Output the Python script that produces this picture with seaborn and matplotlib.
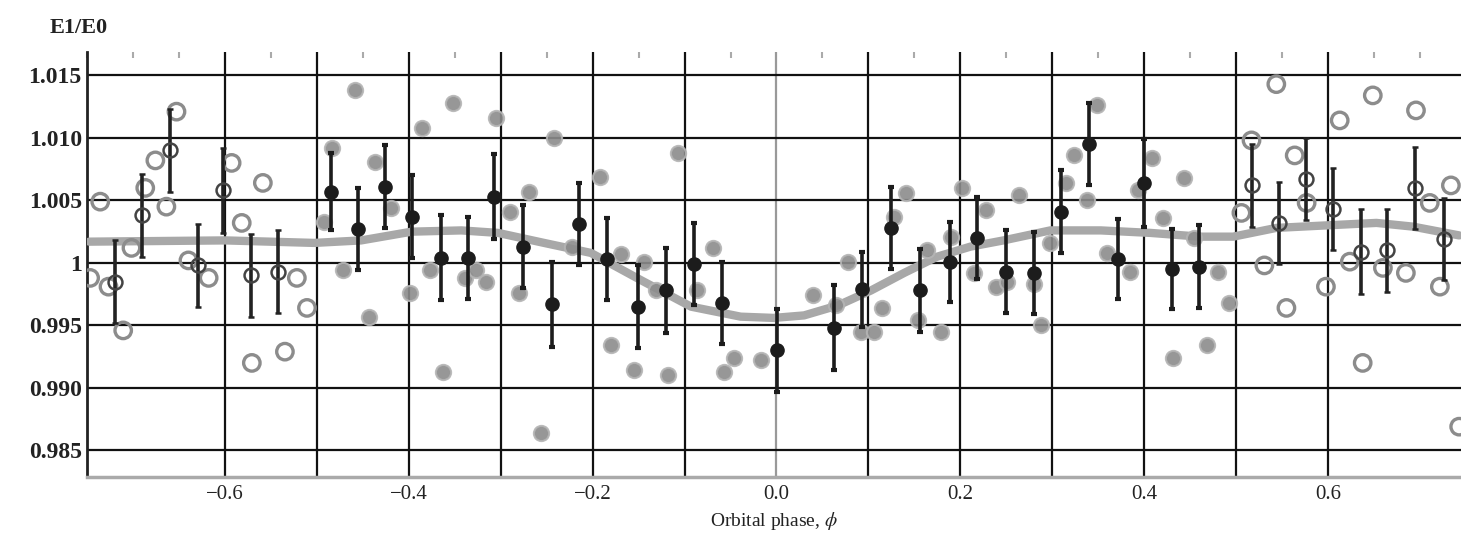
import numpy as np
import matplotlib
matplotlib.use("Agg")
import matplotlib.pyplot as plt
import seaborn as sns
from matplotlib.ticker import MultipleLocator

# model curve
curve_phase = [-0.748, -0.600, -0.503, -0.452, -0.397, -0.343, -0.303, -0.253, -0.202,
               -0.147, -0.093, -0.039, -0.003, 0.030, 0.067, 0.103, 0.139, 0.175, 0.211,
               0.247, 0.298, 0.353, 0.407, 0.461, 0.497, 0.544, 0.598, 0.653, 0.693, 0.743]
curve_ratio = [1.0017, 1.0018, 1.0016, 1.0018, 1.0025, 1.0026, 1.0024, 1.0016, 1.0008,
               0.9986, 0.9965, 0.9957, 0.9956, 0.9958, 0.9966, 0.9978, 0.9992, 1.0005, 1.0013,
               1.0018, 1.0026, 1.0026, 1.0024, 1.0021, 1.0021, 1.0028, 1.0030, 1.0032, 1.0029, 1.0022]

# binned means, centre of the orbit (filled black)
bin_phase = [-0.485, -0.455, -0.426, -0.397, -0.365, -0.336, -0.307, -0.276, -0.244, -0.215,
             -0.184, -0.151, -0.120, -0.090, -0.059, 0.001, 0.063, 0.093, 0.125, 0.156,
             0.189, 0.218, 0.250, 0.280, 0.310, 0.340, 0.372, 0.400, 0.430, 0.460]
bin_ratio = [1.0057, 1.0027, 1.0061, 1.0037, 1.0004, 1.0004, 1.0053, 1.0013, 0.9967, 1.0031,
             1.0003, 0.9965, 0.9978, 0.9999, 0.9968, 0.9930, 0.9948, 0.9979, 1.0028, 0.9978,
             1.0001, 1.0020, 0.9993, 0.9992, 1.0041, 1.0095, 1.0003, 1.0064, 0.9995, 0.9997]
bin_err = [0.0031, 0.0033, 0.0033, 0.0033, 0.0034, 0.0033, 0.0034, 0.0033, 0.0034, 0.0033,
           0.0033, 0.0033, 0.0034, 0.0033, 0.0033, 0.0033, 0.0034, 0.0030, 0.0033, 0.0033,
           0.0032, 0.0033, 0.0033, 0.0033, 0.0033, 0.0033, 0.0032, 0.0035, 0.0032, 0.0033]

# binned means, outer phases (open markers)
edge_phase = [-0.720, -0.691, -0.660, -0.630, -0.602, -0.572, -0.542,
              0.517, 0.547, 0.576, 0.606, 0.636, 0.664, 0.695, 0.727]
edge_ratio = [0.9985, 1.0038, 1.0090, 0.9998, 1.0058, 0.9990, 0.9993,
              1.0062, 1.0032, 1.0067, 1.0043, 1.0009, 1.0010, 1.0060, 1.0019]
edge_err = [0.0033, 0.0033, 0.0033, 0.0033, 0.0034, 0.0033, 0.0033,
            0.0033, 0.0033, 0.0033, 0.0033, 0.0034, 0.0033, 0.0033, 0.0033]

# individual measurements, grey filled
dot_phase = [-0.459, -0.352, -0.386, -0.305, -0.484, -0.437, -0.419, -0.493, -0.290, -0.269,
             -0.472, -0.377, -0.399, -0.444, -0.339, -0.316, -0.327, -0.280, -0.363, -0.256,
             -0.242, -0.107, -0.192, -0.069, -0.169, -0.144, -0.223, -0.131, -0.086, -0.180,
             -0.155, -0.118, -0.046, -0.057, -0.017,
             0.040, 0.065, 0.078, 0.092, 0.106, 0.115, 0.128, 0.141, 0.164, 0.154,
             0.179, 0.190, 0.202, 0.228, 0.215, 0.239,
             0.349, 0.324, 0.315, 0.338, 0.264, 0.298, 0.251, 0.280, 0.288, 0.409,
             0.443, 0.421, 0.394, 0.360, 0.385, 0.454, 0.481, 0.492, 0.432, 0.469]
dot_ratio = [1.0138, 1.0128, 1.0108, 1.0116, 1.0092, 1.0081, 1.0044, 1.0033, 1.0041, 1.0057,
             0.9994, 0.9994, 0.9976, 0.9957, 0.9988, 0.9985, 0.9994, 0.9976, 0.9913, 0.9864,
             1.0100, 1.0088, 1.0069, 1.0012, 1.0007, 1.0001, 1.0013, 0.9978, 0.9978, 0.9934,
             0.9914, 0.9910, 0.9924, 0.9913, 0.9922,
             0.9974, 0.9966, 1.0001, 0.9945, 0.9945, 0.9964, 1.0037, 1.0056, 1.0010, 0.9954,
             0.9945, 1.0021, 1.0060, 1.0042, 0.9992, 0.9981,
             1.0126, 1.0086, 1.0064, 1.0050, 1.0054, 1.0016, 0.9985, 0.9983, 0.9950, 1.0084,
             1.0068, 1.0036, 1.0058, 1.0008, 0.9993, 1.0020, 0.9993, 0.9968, 0.9924, 0.9934]

# individual measurements, grey open
ring_phase = [-0.736, -0.676, -0.687, -0.653, -0.664, -0.702, -0.727, -0.747, -0.711, -0.640,
              -0.618, -0.593, -0.559, -0.582, -0.522, -0.511, -0.571, -0.535,
              0.544, 0.649, 0.696, 0.613, 0.517, 0.564, 0.577, 0.711, 0.734, 0.506,
              0.531, 0.598, 0.555, 0.624, 0.660, 0.685, 0.722, 0.638, 0.743]
ring_ratio = [1.0049, 1.0082, 1.0060, 1.0121, 1.0045, 1.0012, 0.9981, 0.9988, 0.9946, 1.0002,
              0.9988, 1.0080, 1.0064, 1.0032, 0.9988, 0.9964, 0.9920, 0.9929,
              1.0143, 1.0134, 1.0122, 1.0114, 1.0098, 1.0086, 1.0048, 1.0048, 1.0062, 1.0040,
              0.9998, 0.9981, 0.9964, 1.0001, 0.9996, 0.9992, 0.9981, 0.9920, 0.9869]

x_ticks = [-0.6, -0.5, -0.4, -0.3, -0.2, -0.1, 0.0, 0.1, 0.2, 0.3, 0.4, 0.5, 0.6]
x_labels = ["\u22120.6", "", "\u22120.4", "", "\u22120.2", "", "0.0", "", "0.2", "", "0.4", "", "0.6"]
y_ticks = [0.985, 0.990, 0.995, 1.000, 1.005, 1.010, 1.015]
y_labels = ["0.985", "0.990", "0.995", "1", "1.005", "1.010", "1.015"]

sns.set_theme(style="white")
plt.rcParams['font.family'] = ['Liberation Serif', 'DejaVu Serif']
plt.rcParams['mathtext.fontset'] = 'stix'

fig = plt.figure(figsize=(14.61, 5.38), dpi=100)
ax = fig.add_axes([0.0598, 0.114, 0.9402, 0.790])

sns.lineplot(x=curve_phase, y=curve_ratio, color='#a8a8a8', lw=6, ax=ax, zorder=3)

sns.scatterplot(x=dot_phase, y=dot_ratio, color='#8c8c8c', s=120, edgecolor='#b5b5b5',
                linewidth=1.5, alpha=0.9, ax=ax, zorder=4)
ax.scatter(ring_phase, ring_ratio, s=140, facecolors='none', edgecolors='#8c8c8c',
           linewidths=2.4, zorder=4)

ax.errorbar(edge_phase, edge_ratio, yerr=edge_err, fmt='o', color='#222222', ms=10,
            mfc='none', mec='#444444', mew=1.8, elinewidth=2.6, capsize=2.5, capthick=3, zorder=5)
ax.errorbar(bin_phase, bin_ratio, yerr=bin_err, fmt='o', color='#1c1c1c', ms=9.5,
            elinewidth=2.6, capsize=2.5, capthick=3, zorder=6)

ax.set_xlim(-0.75, 0.745)
ax.set_ylim(0.9829, 1.0169)
ax.set_xticks(x_ticks)
ax.set_xticklabels(x_labels, fontsize=15, color='#222222')
ax.set_yticks(y_ticks)
ax.set_yticklabels(y_labels, fontsize=17, fontweight='bold', color='#222222')
ax.xaxis.set_minor_locator(MultipleLocator(0.05))
ax.tick_params(axis='both', which='major', length=0, pad=6)
ax.tick_params(axis='y', which='major', pad=4)
ax.tick_params(axis='x', which='minor', top=True, bottom=False, length=4, width=1.5,
               color='#aaaaaa', direction='in')

ax.set_axisbelow(True)
ax.grid(True, color='#111111', lw=1.6)
ax.get_xgridlines()[6].set_color('#999999')

for side in ['top', 'right']:
    ax.spines[side].set_visible(False)
ax.spines['left'].set_color('#222222')
ax.spines['left'].set_linewidth(2)
ax.spines['bottom'].set_color('#aaaaaa')
ax.spines['bottom'].set_linewidth(2.5)

ax.set_xlabel('Orbital phase, $\\phi$', fontsize=14, color='#222222', labelpad=4)
fig.text(0.054, 0.948, 'E1/E0', fontsize=16, fontweight='bold', ha='center', va='center',
         color='#222222')

fig.savefig('out.png', dpi=100)
